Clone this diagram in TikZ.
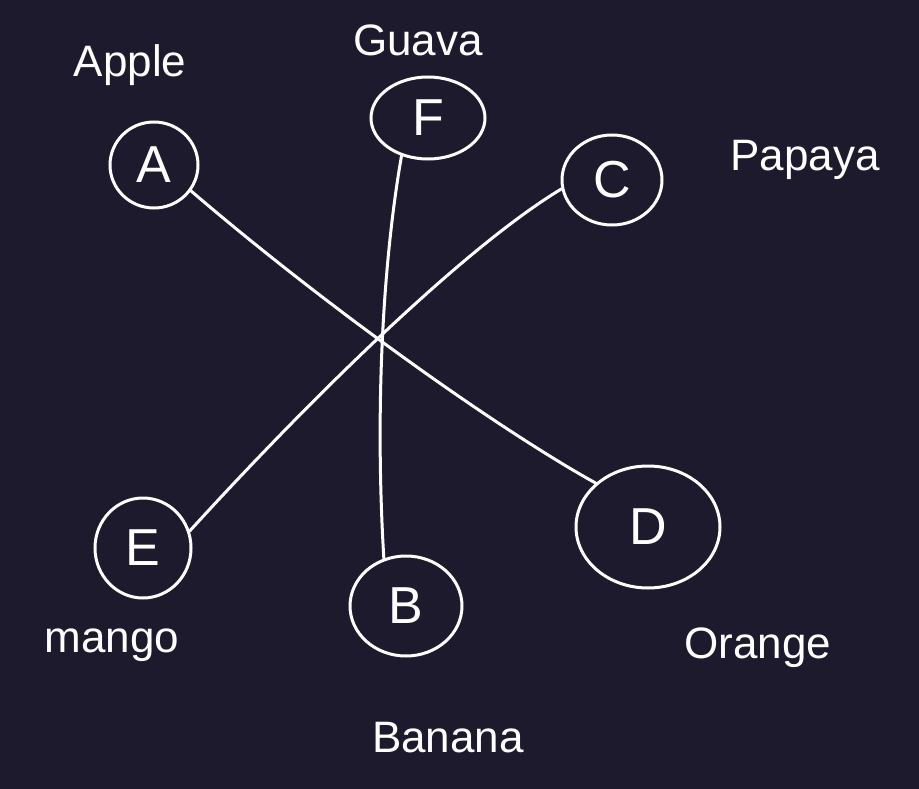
\documentclass[tikz,border=0pt]{standalone}
\usepackage{fontspec}
\setmainfont{Liberation Sans}
\usetikzlibrary{shapes.geometric}
\definecolor{bg}{HTML}{1E1A2E}
\tikzset{
  fruit/.style={draw=white, line width=3pt, ellipse, inner sep=0pt, text=white, font=\fontsize{52}{54}\selectfont},
  lbl/.style={text=white, font=\fontsize{44}{48}\selectfont},
  link/.style={draw=white, line width=3pt, line cap=round}
}
\begin{document}
\begin{tikzpicture}[x=1pt,y=-1pt]
\fill[bg] (0,0) rectangle (919,789);
\useasboundingbox (0,0) rectangle (919,789);
\node[fruit, minimum width=88, minimum height=86] (A) at (154,165) {A};
\node[fruit, minimum width=114, minimum height=82] (F) at (428,118) {F};
\node[fruit, minimum width=100, minimum height=90] (C) at (612,180) {C};
\node[fruit, minimum width=144, minimum height=122] (D) at (648,527) {D};
\node[fruit, minimum width=96, minimum height=100] (E) at (143,548) {E};
\node[fruit, minimum width=112, minimum height=100] (B) at (406,606) {B};
\node[lbl] (la) at (130,65) {Apple};
\node[lbl] (lf) at (418,40) {Guava};
\node[lbl] (lc) at (805,160) {Papaya};
\node[lbl] (ld) at (758,648) {Orange};
\node[lbl] (le) at (112,645) {mango};
\node[lbl] (lb) at (448,738) {Banana};
\draw[link] (A.-35) .. controls (330,310) and (500,430) .. (D.140);
\draw[link] (F.235) .. controls (380,280) and (376,430) .. (B.115);
\draw[link] (C.190) .. controls (460,250) and (300,410) .. (E.20);
\end{tikzpicture}
\end{document}
